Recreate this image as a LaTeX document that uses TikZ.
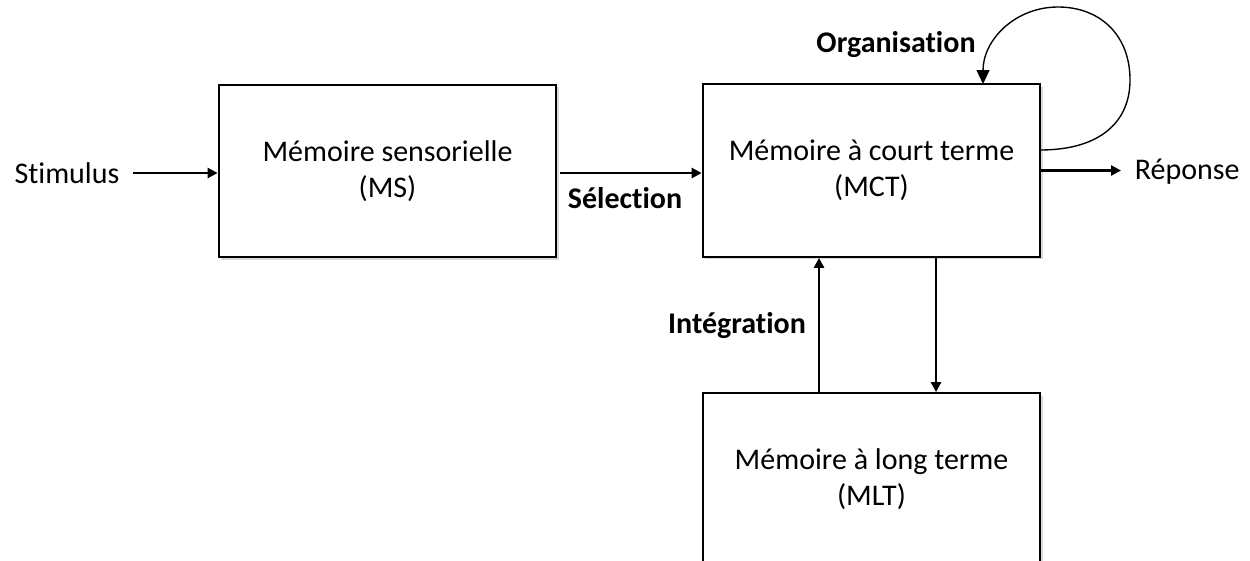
\documentclass[tikz,border=0pt]{standalone}
\usepackage{fontspec}
\setmainfont{Carlito}[Ligatures=NoCommon]
\usetikzlibrary{arrows.meta,shadows}
\tikzset{
  memory/.style={%
    draw, line width=0.9pt, fill=white, align=center,
    minimum width=135pt, minimum height=69pt, inner sep=0pt,
    font=\fontsize{12}{14.5}\selectfont,
    drop shadow={shadow xshift=0.9pt,shadow yshift=-0.9pt,opacity=0.3}
  },
  plain label/.style={font=\fontsize{12}{14.5}\selectfont},
  flow label/.style={font=\fontsize{12}{14.5}\selectfont\bfseries},
  flow/.style={line width=1pt,-{Triangle[length=4pt,width=4pt]}},
  loop flow/.style={line width=0.55pt,-{Triangle[length=5.6pt,width=5.2pt]}}
}

\begin{document}
\begin{tikzpicture}[x=0.4pt,y=-0.4pt]
\clip (0,0) rectangle (1250,560);
\fill[white] (0,0) rectangle (1250,560);
\node[memory] (ms) at (387.5,171) {Mémoire sensorielle\\(MS)};
\node[memory] (mct) at (871.5,170.5) {Mémoire à court terme\\(MCT)};
\node[memory] (mlt) at (871.5,479.5) {Mémoire à long terme\\(MLT)};
\node[plain label] (stimulus) at (67,173) {Stimulus};
\node[plain label,anchor=west] (reponse) at (1126,172) {Réponse};
\node[flow label] (selection) at (625,198) {Sélection};
\node[flow label] (integration) at (737,326) {Intégration};
\node[flow label] (organisation) at (896,45) {Organisation};
\coordinate (loopstart) at (1040,150);
\coordinate (loopend) at (983,84);
\draw[flow] ([xshift=2pt]stimulus.east) -- (ms.west |- stimulus.east);
\draw[flow] (560,173) -- (mct.west |- 0,173);
\draw[flow,shorten >=2pt] (mct.east) -- (reponse.west |- mct.east);
\draw[flow] (819,0 |- mlt.north) -- (819,0 |- mct.south);
\draw[flow] (936,0 |- mct.south) -- (936,0 |- mlt.north);
\draw[loop flow] (loopstart) .. controls (1100,150) and (1130,122) .. (1130,80)
  .. controls (1130,35) and (1100,7) .. (1058,7)
  .. controls (1015,7) and (983,40) .. (loopend);
\end{tikzpicture}
\end{document}
